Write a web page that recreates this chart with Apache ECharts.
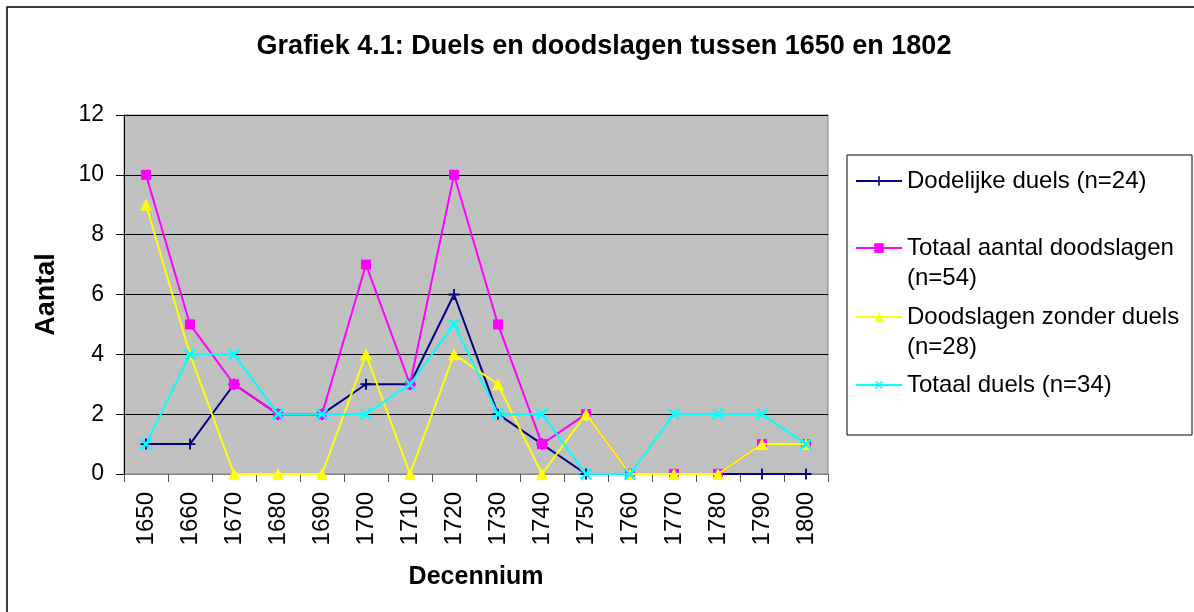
<!DOCTYPE html>
<html>
<head>
<meta charset="utf-8">
<script src="https://cdn.jsdelivr.net/npm/echarts@6/dist/echarts.min.js"></script>
<style>html,body{margin:0;padding:0;background:#fff}#c{width:1194px;height:612px}</style>
</head>
<body>
<div id="c"></div>
<script>
var categories = ['1650','1660','1670','1680','1690','1700','1710','1720','1730','1740','1750','1760','1770','1780','1790','1800'];
var dodelijkeDuels = [1,1,3,2,2,3,3,6,2,1,0,0,0,0,0,0];
var totaalDoodslagen = [10,5,3,2,2,7,3,10,5,1,2,0,0,0,1,1];
var doodslagenZonderDuels = [9,4,0,0,0,4,0,4,3,0,2,0,0,0,1,1];
var totaalDuels = [1,4,4,2,2,2,3,5,2,2,0,0,2,2,2,1];
var seriesNames = ['Dodelijke duels (n=24)','Totaal aantal doodslagen (n=54)','Doodslagen zonder duels (n=28)','Totaal duels (n=34)'];
var legendTexts = ['Dodelijke duels (n=24)','\nTotaal aantal doodslagen\n(n=54)','\nDoodslagen zonder duels\n(n=28)','Totaal duels (n=34)'];
var yTicks = [0,2,4,6,8,10,12];

var FONT = 'Liberation Sans, Arial, sans-serif';
var plusPath = 'path://M5,0H7V12H5Z M0,5H12V7H0Z';

function legendAt(i, top) {
  return {
    show: true, orient: 'vertical', left: 855, top: top, padding: 0,
    itemWidth: 46, itemHeight: 12, itemGap: 0, selectedMode: false,
    data: [seriesNames[i]],
    formatter: function () { return legendTexts[i]; },
    textStyle: { fontFamily: FONT, fontSize: 24, color: '#000', lineHeight: 30 }
  };
}

var chart = echarts.init(document.getElementById('c'), null, {renderer: 'canvas'});
chart.setOption({
  animation: false,
  backgroundColor: '#fff',
  title: {
    text: 'Grafiek 4.1: Duels en doodslagen tussen 1650 en 1802',
    left: 604, textAlign: 'center', top: 33, padding: 0,
    textStyle: { fontFamily: FONT, fontSize: 27, fontWeight: 'bold', color: '#000' }
  },
  graphic: [
    { type: 'rect', shape: { x: 7, y: 7, width: 1210, height: 620 }, style: { fill: 'none', stroke: '#000', lineWidth: 1.5 }, silent: true },
    { type: 'rect', shape: { x: 847, y: 155, width: 345, height: 280 }, style: { fill: '#fff', stroke: '#000', lineWidth: 1 }, silent: true, z: -1 }
  ],
  legend: [legendAt(0, 166), legendAt(1, 203), legendAt(2, 272), legendAt(3, 370)],
  grid: {
    left: 124, right: 366, top: 115, bottom: 138,
    show: true, backgroundColor: '#c0c0c0', borderColor: '#808080', borderWidth: 1
  },
  xAxis: {
    type: 'category', data: categories, boundaryGap: true,
    name: 'Decennium', nameLocation: 'middle', nameGap: 91,
    nameTextStyle: { fontFamily: FONT, fontSize: 25, fontWeight: 'bold', color: '#000' },
    axisLine: { lineStyle: { color: '#808080', width: 1 } },
    axisTick: { show: true, length: 8, lineStyle: { color: '#555' } },
    axisLabel: { rotate: 90, margin: 18, fontFamily: FONT, fontSize: 24, color: '#000' }
  },
  yAxis: {
    type: 'value', min: 0, max: 12, interval: 2,
    name: 'Aantal', nameLocation: 'middle', nameGap: 64, nameRotate: 90,
    nameTextStyle: { fontFamily: FONT, fontSize: 27, fontWeight: 'bold', color: '#000' },
    axisLine: { show: true, lineStyle: { color: '#000', width: 1 } },
    axisTick: { show: true, length: 8, lineStyle: { color: '#000' } },
    axisLabel: { margin: 20, fontFamily: FONT, fontSize: 23, color: '#000',
      formatter: function (v) { return yTicks.indexOf(v) >= 0 ? String(v) : ''; } },
    splitLine: { show: true, lineStyle: { color: '#000', width: 1 } }
  },
  series: [
    { name: seriesNames[0], type: 'line', data: dodelijkeDuels, symbol: plusPath, symbolSize: 11,
      lineStyle: { color: '#000080', width: 2 }, itemStyle: { color: '#000080', borderWidth: 0 }, z: 2 },
    { name: seriesNames[1], type: 'line', data: totaalDoodslagen, symbol: 'rect', symbolSize: 10,
      lineStyle: { color: '#ff00ff', width: 2 }, itemStyle: { color: '#ff00ff', borderWidth: 0 }, z: 3 },
    { name: seriesNames[2], type: 'line', data: doodslagenZonderDuels, symbol: 'triangle', symbolSize: 12,
      lineStyle: { color: '#ffff00', width: 2 }, itemStyle: { color: '#ffff00', borderWidth: 0 }, z: 4 },
    { name: seriesNames[3], type: 'line', data: totaalDuels, symbol: plusPath, symbolSize: 15, symbolRotate: 45,
      lineStyle: { color: '#00ffff', width: 2 }, itemStyle: { color: '#00ffff', borderWidth: 0 }, z: 5 }
  ]
});
</script>
</body>
</html>
